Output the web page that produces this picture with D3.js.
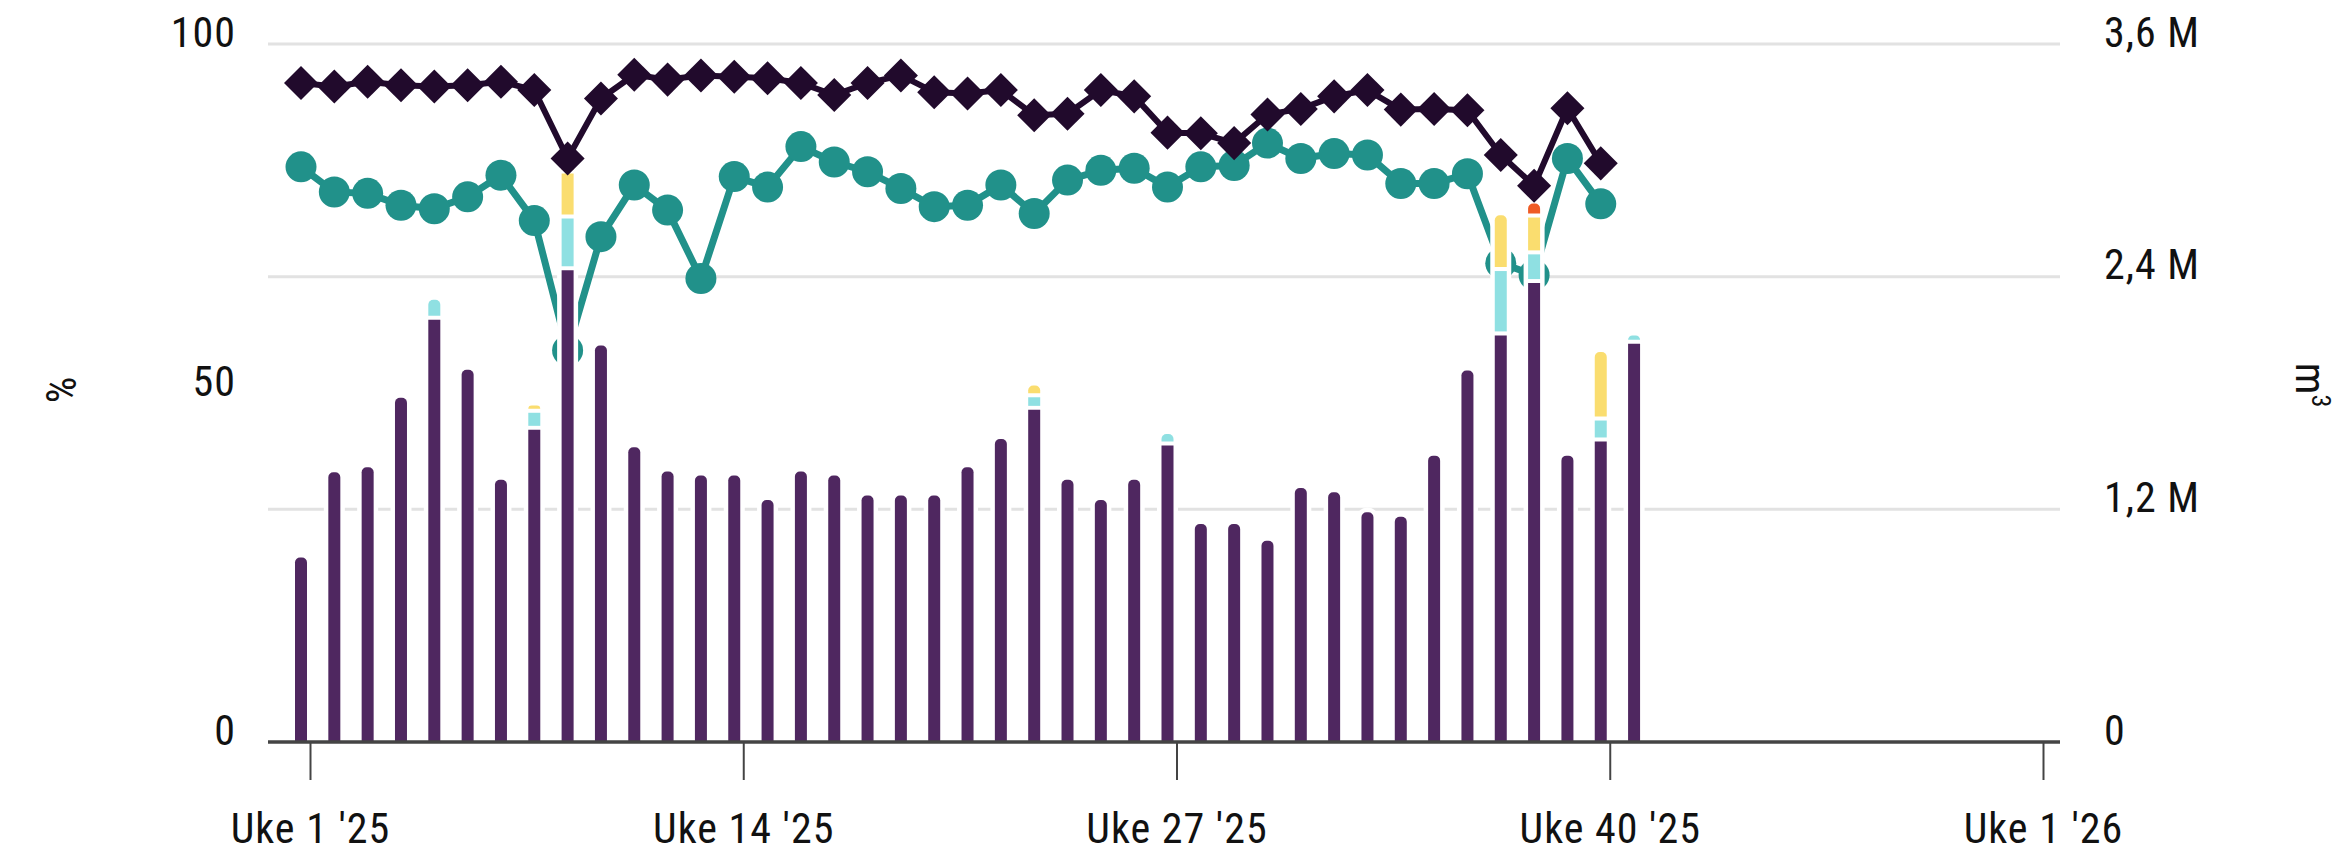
<!DOCTYPE html>
<html>
<head>
<meta charset="utf-8">
<script src="https://cdn.jsdelivr.net/npm/d3@7"></script>
<style>
  body { margin: 0; background: #fff; }
  svg { display: block; }
</style>
</head>
<body>
<script>
// weekly data, 2025
const weeks = [1, 2, 3, 4, 5, 6, 7, 8, 9, 10, 11, 12, 13, 14, 15, 16, 17, 18, 19, 20,
  21, 22, 23, 24, 25, 26, 27, 28, 29, 30, 31, 32, 33, 34, 35, 36, 37, 38, 39, 40, 41];

// percent series (lines), weeks 1-40
const andelMork = [94.4, 93.9, 94.6, 94.1, 93.9, 94.1, 94.6, 93.4, 83.6, 92.2,
  95.6, 94.9, 95.5, 95.3, 95.1, 94.4, 92.7, 94.4, 95.5, 93.1,
  92.9, 93.4, 89.8, 90.0, 93.4, 92.5, 87.3, 87.2, 85.8, 89.9,
  90.7, 92.5, 93.4, 90.6, 90.7, 90.5, 84.1, 79.7, 90.8, 82.9];
const andelTeal = [82.4, 78.8, 78.6, 76.9, 76.4, 78.1, 81.2, 74.7, 56.1, 72.4,
  79.8, 76.2, 66.4, 81.0, 79.5, 85.3, 83.1, 81.7, 79.3, 76.7,
  76.9, 79.8, 75.7, 80.5, 81.9, 82.2, 79.5, 82.4, 82.6, 85.8,
  83.6, 84.3, 84.1, 80.0, 80.0, 81.4, 68.6, 66.9, 83.6, 77.1];

// volume series (stacked bars), million m3
const volumLilla = [0.952, 1.391, 1.417, 1.775, 2.178, 1.920, 1.352, 1.610, 2.433, 2.045,
  1.520, 1.395, 1.374, 1.374, 1.248, 1.395, 1.374, 1.271, 1.271, 1.271,
  1.417, 1.563, 1.713, 1.352, 1.248, 1.352, 1.529, 1.124, 1.124, 1.038,
  1.310, 1.288, 1.185, 1.162, 1.477, 1.916, 2.097, 2.367, 1.477, 1.550, 2.054];
const volumCyan = [0, 0, 0, 0, 0.103, 0, 0, 0.088, 0.267, 0,
  0, 0, 0, 0, 0, 0, 0, 0, 0, 0,
  0, 0, 0.065, 0, 0, 0, 0.060, 0, 0, 0,
  0, 0, 0, 0, 0, 0, 0.332, 0.148, 0, 0.108, 0.043];
const volumGul = [0, 0, 0, 0, 0, 0, 0, 0.038, 0.232, 0,
  0, 0, 0, 0, 0, 0, 0, 0, 0, 0,
  0, 0, 0.061, 0, 0, 0, 0, 0, 0, 0,
  0, 0, 0, 0, 0, 0, 0.288, 0.190, 0, 0.353, 0];
const volumRod = [0, 0, 0, 0, 0, 0, 0, 0, 0.051, 0,
  0, 0, 0, 0, 0, 0, 0, 0, 0, 0,
  0, 0, 0, 0, 0, 0, 0, 0, 0, 0,
  0, 0, 0, 0, 0, 0, 0, 0.072, 0, 0, 0];

const ticksVenstre = [0, 50, 100];
const ticksHoyre = [0, 1.2, 2.4, 3.6];
const ukeTicks = [1, 14, 27, 40, 53];
const ukeLabels = ["Uke 1 '25", "Uke 14 '25", "Uke 27 '25", "Uke 40 '25", "Uke 1 '26"];

const W = 2341, H = 859;
const m = { left: 268, right: 2060, bottom: 742, top: 44 };
const font = "'Liberation Sans Narrow', 'Roboto Condensed', 'Liberation Sans', sans-serif";
const fontSize = 42;
const shift = -9; // data points sit a bit left of the week tick
const bw = 12, gap = 4;

const svg = d3.select("body").append("svg").attr("width", W).attr("height", H);

const x = d3.scaleLinear().domain([1, 53]).range([310, 2043]);
const yL = d3.scaleLinear().domain([0, 100]).range([m.bottom, m.top]);
const yR = d3.scaleLinear().domain([0, 3.6]).range([m.bottom, m.top]);

const nb = d3.formatLocale({ decimal: ",", thousands: " ", grouping: [3], currency: ["", ""] });
const fmtM = d => d === 0 ? "0" : nb.format(".1f")(d) + " M";

// gridlines
svg.append("g").selectAll("line")
  .data(ticksHoyre.filter(d => d > 0))
  .join("line")
    .attr("x1", m.left).attr("x2", m.right)
    .attr("y1", d => yR(d)).attr("y2", d => yR(d))
    .attr("stroke", "#e2e2e2").attr("stroke-width", 3);

// teal line
const px = i => x(weeks[i]) + shift;
const lineL = d3.line().x((d, i) => px(i)).y(d => yL(d));

svg.append("path")
  .datum(andelTeal)
  .attr("d", lineL)
  .attr("fill", "none").attr("stroke", "#21918a").attr("stroke-width", 7)
  .attr("stroke-linejoin", "round");
svg.append("g").selectAll("circle")
  .data(andelTeal)
  .join("circle")
    .attr("cx", (d, i) => px(i)).attr("cy", d => yL(d)).attr("r", 15.5)
    .attr("fill", "#21918a");

// bars
const keys = ["lilla", "cyan", "gul", "rod"];
const colors = { lilla: "#4f2760", cyan: "#8fe0e2", gul: "#fadd6f", rod: "#ef5b25" };
const rows = weeks.map((w, i) => ({ week: w, lilla: volumLilla[i], cyan: volumCyan[i], gul: volumGul[i], rod: volumRod[i] }));
const stacked = d3.stack().keys(keys)(rows);

function topRounded(x0, y0, w, h, r) {
  r = Math.min(r, w / 2, h);
  return `M${x0},${y0 + h}V${y0 + r}A${r},${r} 0 0 1 ${x0 + r},${y0}H${x0 + w - r}A${r},${r} 0 0 1 ${x0 + w},${y0 + r}V${y0 + h}Z`;
}

const bars = svg.append("g");
rows.forEach((row, i) => {
  const cx = px(i);
  const total = d3.sum(keys, k => row[k]);
  const topKey = keys.filter(k => row[k] > 0).pop();
  // white halo
  bars.append("path")
    .attr("d", topRounded(cx - bw / 2, yR(total), bw, yR(0) - yR(total), 5))
    .attr("fill", "#fff").attr("stroke", "#fff").attr("stroke-width", 9);
  stacked.forEach((s, k) => {
    const [v0, v1] = s[i];
    if (v1 - v0 <= 0) return;
    const yt = yR(v1);
    const yb = yR(v0) - (k > 0 ? gap : 0);
    const r = s.key === topKey ? 5 : 0;
    bars.append("path")
      .attr("d", topRounded(cx - bw / 2, yt, bw, yb - yt, r))
      .attr("fill", colors[s.key]);
  });
});

// dark diamond line
svg.append("path")
  .datum(andelMork)
  .attr("d", lineL)
  .attr("fill", "none").attr("stroke", "#210a2c").attr("stroke-width", 6)
  .attr("stroke-linejoin", "round");
svg.append("g").selectAll("path")
  .data(andelMork)
  .join("path")
    .attr("transform", (d, i) => `translate(${px(i)},${yL(d)}) rotate(45)`)
    .attr("d", d3.symbol(d3.symbolSquare, 580))
    .attr("fill", "#210a2c");

// baseline
svg.append("line")
  .attr("x1", m.left).attr("x2", m.right)
  .attr("y1", m.bottom).attr("y2", m.bottom)
  .attr("stroke", "#444").attr("stroke-width", 3.5);

// axes
const styleAxis = g => {
  g.attr("font-family", font).attr("font-size", fontSize).attr("letter-spacing", 1);
  g.select(".domain").remove();
  g.selectAll("text").attr("fill", "#111");
};

svg.append("g")
  .attr("transform", `translate(${m.left},0)`)
  .call(d3.axisLeft(yL).tickValues(ticksVenstre).tickSize(0).tickPadding(32))
  .call(styleAxis)
  .call(g => g.selectAll("text").attr("dy", 0).attr("y", 2));

svg.append("g")
  .attr("transform", `translate(${m.right},0)`)
  .call(d3.axisRight(yR).tickValues(ticksHoyre).tickFormat(fmtM).tickSize(0).tickPadding(44))
  .call(styleAxis)
  .call(g => g.selectAll("text").attr("dy", 0).attr("y", 2));

svg.append("g")
  .attr("transform", `translate(0,${m.bottom})`)
  .call(d3.axisBottom(x).tickValues(ukeTicks).tickFormat((d, i) => ukeLabels[i]).tickSize(38))
  .call(styleAxis)
  .call(g => g.selectAll(".tick line").attr("stroke", "#444").attr("stroke-width", 2))
  .call(g => g.selectAll("text").attr("dy", 0).attr("y", 101));

// axis titles
svg.append("text")
  .attr("transform", "translate(76,390) rotate(-90)")
  .attr("text-anchor", "middle")
  .attr("font-family", font).attr("font-size", fontSize).attr("fill", "#111")
  .text("%");

const m3 = svg.append("text")
  .attr("transform", "translate(2296,385) rotate(90)")
  .attr("text-anchor", "middle")
  .attr("font-family", font).attr("font-size", fontSize).attr("fill", "#111");
m3.append("tspan").text("m");
m3.append("tspan").attr("font-size", 26).attr("dy", -16).text("3");
</script>
</body>
</html>
